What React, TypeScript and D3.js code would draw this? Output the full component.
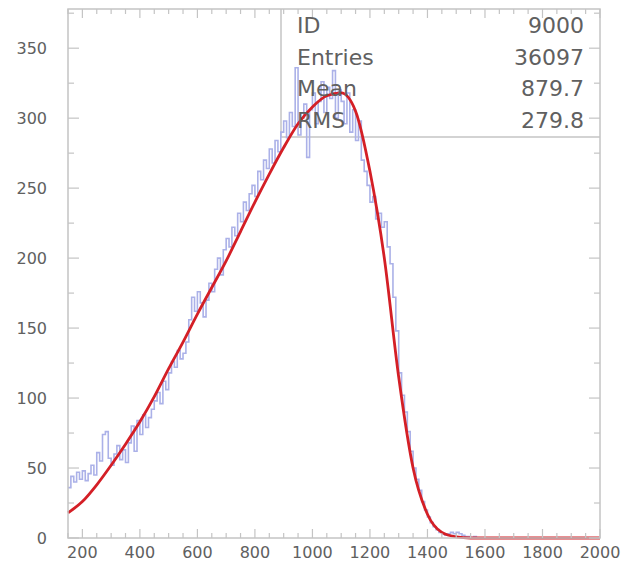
import * as d3 from 'd3';
import { useEffect, useRef } from 'react';

// histogram: bins of width 10 starting at 150
const binStart = 150;
const binWidth = 10;
const counts = [
  36, 44, 40, 47, 42,
  48, 41, 46, 52, 45, 61, 55, 74, 76, 57,
  52, 60, 66, 56, 63, 54, 68, 80, 62, 84,
  74, 88, 79, 86, 92, 98, 104, 96, 112, 106,
  118, 126, 122, 134, 128, 132, 140, 156, 172, 162,
  176, 168, 158, 170, 182, 176, 192, 200, 188, 206,
  214, 208, 222, 216, 232, 226, 240, 234, 246, 252,
  244, 262, 256, 270, 264, 278, 268, 284, 276, 290,
  298, 286, 304, 294, 336, 288, 300, 310, 272, 306,
  318, 296, 312, 326, 304, 322, 314, 334, 300, 320,
  312, 296, 318, 290, 306, 284, 298, 270, 262, 252,
  240, 244, 228, 232, 222, 226, 208, 196, 172, 148,
  118, 102, 90, 76, 62, 50, 42, 34, 26, 20,
  15, 11, 8, 6, 4, 3, 2, 3, 4, 3,
  4, 3, 2, 1, 1, 0, 1, 0, 0, 0,
  0, 0, 0, 0, 0, 0, 0, 0, 0, 0,
  0, 0, 0, 0, 0, 0, 0, 0, 0, 0,
  0, 0, 0, 0, 0, 0, 0, 0, 0, 0,
  0, 0, 0, 0, 0, 0, 0, 0, 0, 0,
];

// fitted function
const fitX = [150, 200, 250, 300, 350, 400, 450, 500, 550, 600, 650, 700, 750, 800, 850, 900, 950, 1000, 1050, 1100, 1150, 1200, 1250, 1300, 1350, 1400, 1450, 1500, 1550, 1600, 1800, 2000];
const fitY = [18, 26, 38, 52, 67, 83, 101, 121, 140, 160, 179, 198, 219, 240, 260, 279, 296, 308, 316, 318, 305, 262, 200, 115, 50, 17, 4, 0.8, 0, 0, 0, 0];

const xTicks = [200, 400, 600, 800, 1000, 1200, 1400, 1600, 1800, 2000];
const yTicks = [0, 50, 100, 150, 200, 250, 300, 350];

const statNames = ['ID', 'Entries', 'Mean', 'RMS'];
const statValues = ['9000', '36097', '879.7', '279.8'];

export default function App() {
  const ref = useRef<SVGSVGElement>(null);

  useEffect(() => {
    const width = 621;
    const height = 564;
    const margin = { top: 9, right: 21, bottom: 26, left: 68 };
    const frameColor = '#c4c4c4';
    const textColor = '#606060';

    const svg = d3.select(ref.current);
    svg.selectAll('*').remove();

    const x = d3.scaleLinear().domain([150, 2000]).range([margin.left, width - margin.right]);
    const y = d3.scaleLinear().domain([0, 378]).range([height - margin.bottom, margin.top]);

    const x0 = margin.left, x1 = width - margin.right;
    const y0 = height - margin.bottom, y1 = margin.top;

    // stats box lines
    const boxLeft = 281;
    const boxBottom = 137;
    svg.append('line').attr('x1', boxLeft).attr('x2', boxLeft).attr('y1', y1).attr('y2', boxBottom)
      .attr('stroke', frameColor).attr('stroke-width', 1.5);
    svg.append('line').attr('x1', boxLeft).attr('x2', x1).attr('y1', boxBottom).attr('y2', boxBottom)
      .attr('stroke', frameColor).attr('stroke-width', 1.5);

    // histogram
    const bins = counts.map((c, i) => [binStart + i * binWidth, c] as [number, number]);
    bins.push([binStart + counts.length * binWidth, counts[counts.length - 1]]);
    const histLine = d3.line<[number, number]>()
      .x(d => x(d[0]))
      .y(d => y(d[1]))
      .curve(d3.curveStepAfter);
    svg.append('path')
      .datum(bins)
      .attr('fill', 'none')
      .attr('stroke', '#abb1e8')
      .attr('stroke-width', 1.6)
      .attr('d', histLine);

    // fit curve
    const fit = fitX.map((v, i) => [v, fitY[i]] as [number, number]);
    const fitLine = d3.line<[number, number]>()
      .x(d => x(d[0]))
      .y(d => y(d[1]))
      .curve(d3.curveMonotoneX);
    svg.append('path')
      .datum(fit)
      .attr('fill', 'none')
      .attr('stroke', '#d41f26')
      .attr('stroke-width', 2.8)
      .attr('d', fitLine);

    // frame
    svg.append('rect')
      .attr('x', x0).attr('y', y1)
      .attr('width', x1 - x0).attr('height', y0 - y1)
      .attr('fill', 'none').attr('stroke', frameColor).attr('stroke-width', 1.5);

    // x ticks (bottom + top, inward)
    const xMinor = d3.range(150, 2001, 50);
    const xt = svg.append('g').attr('stroke', frameColor).attr('stroke-width', 1.2);
    xMinor.forEach(v => {
      const major = v % 200 === 0;
      const len = major ? 9 : 5;
      xt.append('line').attr('x1', x(v)).attr('x2', x(v)).attr('y1', y0).attr('y2', y0 - len);
      xt.append('line').attr('x1', x(v)).attr('x2', x(v)).attr('y1', y1).attr('y2', y1 + len);
    });

    // y ticks (left + right, inward)
    const yMinor = d3.range(0, 376, 25);
    yMinor.forEach(v => {
      const major = v % 50 === 0;
      const len = major ? 11 : 6;
      xt.append('line').attr('x1', x0).attr('x2', x0 + len).attr('y1', y(v)).attr('y2', y(v));
      xt.append('line').attr('x1', x1).attr('x2', x1 - len).attr('y1', y(v)).attr('y2', y(v));
    });

    const font = '"DejaVu Sans", sans-serif';

    svg.append('g')
      .selectAll('text')
      .data(xTicks)
      .join('text')
      .attr('x', d => x(d))
      .attr('y', 558)
      .attr('text-anchor', 'middle')
      .attr('font-family', font)
      .attr('font-size', 16)
      .attr('fill', textColor)
      .text(d => d);

    svg.append('g')
      .selectAll('text')
      .data(yTicks)
      .join('text')
      .attr('x', 47)
      .attr('y', d => y(d) + 6)
      .attr('text-anchor', 'end')
      .attr('font-family', font)
      .attr('font-size', 16)
      .attr('fill', textColor)
      .text(d => d);

    // stats text
    statNames.forEach((name, i) => {
      const by = 33 + i * 31.7;
      svg.append('text')
        .attr('x', 297).attr('y', by)
        .attr('font-family', font).attr('font-size', 22)
        .attr('fill', textColor)
        .text(name);
      svg.append('text')
        .attr('x', 584).attr('y', by)
        .attr('text-anchor', 'end')
        .attr('font-family', font).attr('font-size', 22)
        .attr('fill', textColor)
        .text(statValues[i]);
    });
  }, []);

  return (
    <svg ref={ref} width={621} height={564}
      style={{ position: 'absolute', left: 0, top: 0, background: 'white' }} />
  );
}
